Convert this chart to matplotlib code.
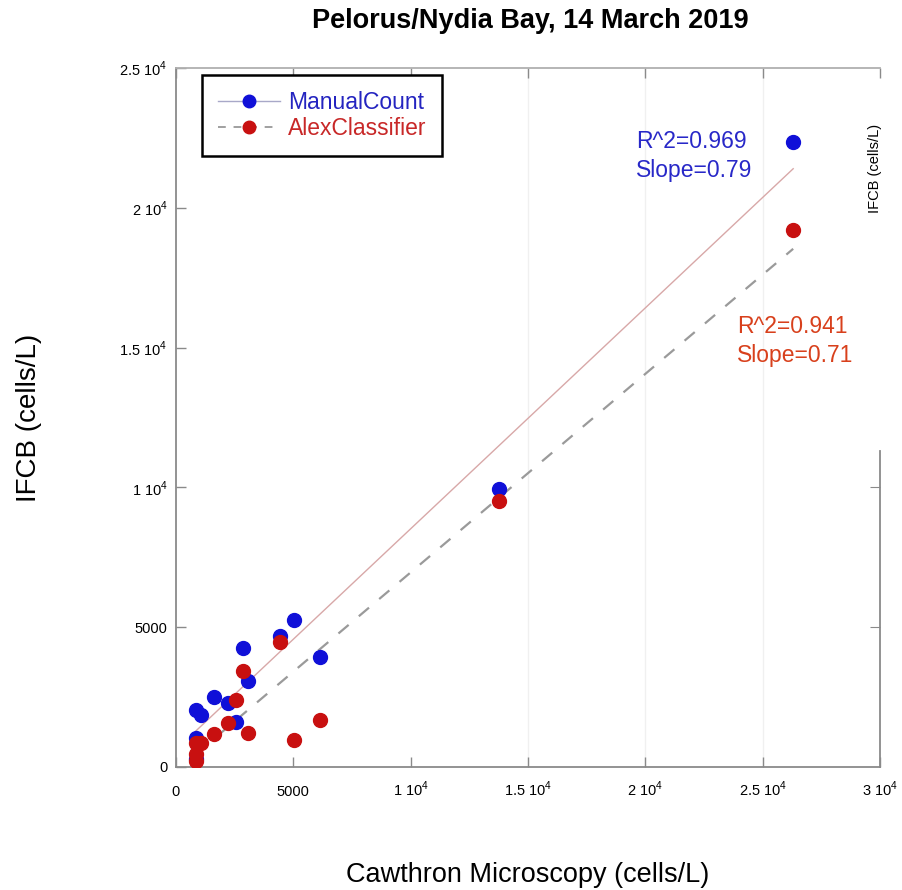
import matplotlib
matplotlib.use("Agg")
import matplotlib.pyplot as plt
from matplotlib.lines import Line2D
import numpy as np

plt.rcParams['font.family'] = ['Liberation Sans', 'DejaVu Sans']
plt.rcParams['mathtext.fontset'] = 'custom'
plt.rcParams['mathtext.rm'] = 'Liberation Sans'

# ---- data ----
cawthron = [26300, 13750, 6150, 5040, 4430, 3050, 2840, 2560, 2210, 1640, 1060, 850, 870, 850]
manual_count = [22350, 9960, 3950, 5240, 4690, 3090, 4250, 1625, 2300, 2500, 1850, 2030, 1040, 300]
alex_classifier = [19200, 9500, 1690, 950, 4460, 1210, 3420, 2400, 1570, 1190, 850, 870, 480, 230]

manual_fit = (0.79, 620.0)     # slope, intercept
alex_fit = (0.71, -140.0)
manual_stats = "R^2=0.969\nSlope=0.79"
alex_stats = "R^2=0.941\nSlope=0.71"

x_ticks = [0, 5000, 10000, 15000, 20000, 25000, 30000]
x_ticklabels = ["0", "5000", r"1 10$^{4}$", r"1.5 10$^{4}$", r"2 10$^{4}$", r"2.5 10$^{4}$", r"3 10$^{4}$"]
y_ticks = [0, 5000, 10000, 15000, 20000, 25000]
y_ticklabels = ["0", "5000", r"1 10$^{4}$", r"1.5 10$^{4}$", r"2 10$^{4}$", r"2.5 10$^{4}$"]

W, H = 902, 890
fig = plt.figure(figsize=(W / 100, H / 100), dpi=100)
L, R, B, T = 176, 880, 767, 68
ax = fig.add_axes([L / W, 1 - B / H, (R - L) / W, (B - T) / H])

blue = '#1010d8'
red = '#c81010'
spine_c = '#8a8a8a'

ax.set_xlim(0, 30000)
ax.set_ylim(0, 25000)

# faint vertical grid
for xv in [15000, 20000, 25000]:
    ax.axvline(xv, color='#f0f0f0', lw=1, zorder=0)

xs = np.array([min(cawthron), max(cawthron)])
ax.plot(xs, manual_fit[0] * xs + manual_fit[1], color='#d8a8a8', lw=1.0, zorder=2)
ax.plot(xs, alex_fit[0] * xs + alex_fit[1], color='#9a9a9a', lw=1.6, dashes=(6, 6), zorder=2)

ax.plot(cawthron, manual_count, 'o', color=blue, ms=10, mec=blue, zorder=3)
ax.plot(cawthron, alex_classifier, 'o', color=red, ms=10, mec=red, zorder=4)

ax.set_xticks(x_ticks)
ax.set_xticklabels(x_ticklabels, va='baseline')
ax.set_yticks(y_ticks)
ax.set_yticklabels(y_ticklabels)
ax.tick_params(axis='both', direction='in', length=7, width=1, color=spine_c, labelsize=10.5)
ax.tick_params(axis='x', pad=21, top=True)
ax.tick_params(axis='y', pad=6)

for s in ['left', 'bottom', 'top', 'right']:
    ax.spines[s].set_color(spine_c)
    ax.spines[s].set_linewidth(1.3)
ax.spines['top'].set_color('#b0b0b0')
ax.spines['right'].set_bounds(0, 11300)

sec = ax.secondary_yaxis('right')
sec.set_yticks([5000, 10000])
sec.set_yticklabels(['', ''])
sec.tick_params(direction='in', length=7, color=spine_c)
sec.spines['right'].set_visible(False)

ax.set_xlabel("Cawthron Microscopy (cells/L)", fontsize=19.5, labelpad=45)
ax.set_ylabel("IFCB (cells/L)", fontsize=20, labelpad=56)
fig.text(530 / W, 1 - 21 / H, "Pelorus/Nydia Bay, 14 March 2019", fontsize=19.5,
         fontweight='bold', ha='center', va='center')

fig.text(875 / W, 1 - 168 / H, "IFCB (cells/L)", fontsize=10.5, rotation=90,
         ha='center', va='center')

fig.text(636 / W, 1 - 156 / H, manual_stats, color='#2828c8', fontsize=16.5,
         ha='left', va='center', linespacing=1.3)
fig.text(737 / W, 1 - 341 / H, alex_stats, color='#d8401c', fontsize=16.5,
         ha='left', va='center', linespacing=1.3)

handles = [
    Line2D([], [], color='#a8a8c8', lw=1, marker='o', ms=9, mfc=blue, mec=blue),
    Line2D([], [], color='#a0a0a0', lw=1.4, dashes=(4, 4), marker='o', ms=9, mfc=red, mec=red),
]
leg = ax.legend(handles, ["ManualCount", "AlexClassifier"], loc='upper left',
                bbox_to_anchor=((202 - L) / (R - L), 1 - (75 - T) / (B - T)),
                borderaxespad=0, fontsize=16.5, handlelength=2.7, handletextpad=0.35,
                fancybox=False, framealpha=1, edgecolor='black',
                labelspacing=0.12, borderpad=0.7)
leg.get_frame().set_linewidth(1.8)
for t, c in zip(leg.get_texts(), ['#2424c0', '#c82828']):
    t.set_color(c)

fig.savefig("out.png", dpi=100)
